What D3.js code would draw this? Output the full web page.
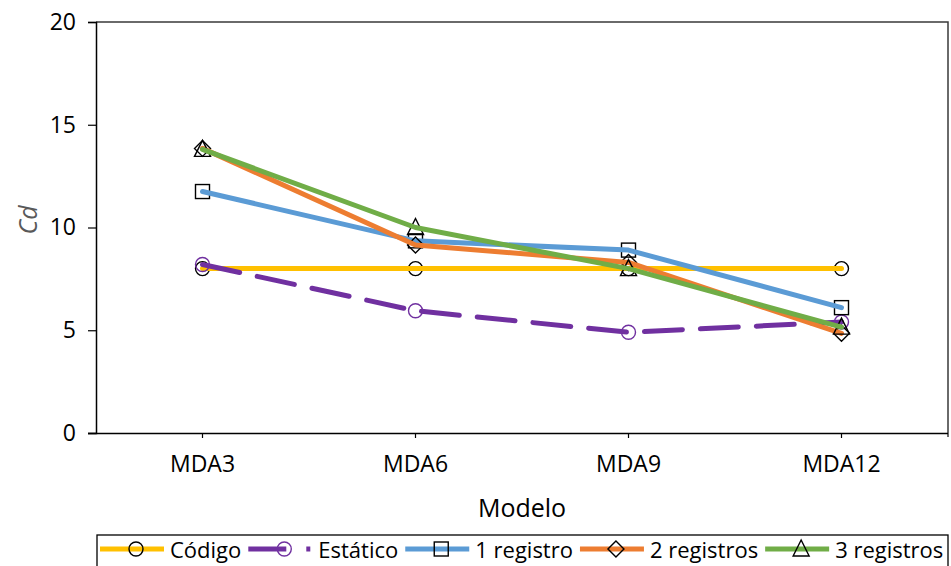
<!DOCTYPE html>
<html>
<head>
<meta charset="utf-8">
<script src="https://cdn.jsdelivr.net/npm/d3@7"></script>
<style>
  html, body { margin: 0; padding: 0; background: #fff; }
  svg { display: block; }
  text { font-family: "Open Sans", "Liberation Sans", sans-serif; fill: #000; }
</style>
</head>
<body>
<svg id="chart" width="951" height="566"></svg>
<script>
// Categories and series values (Cd per model)
const categories = ["MDA3", "MDA6", "MDA9", "MDA12"];
const codigo     = [8.0, 8.0, 8.0, 8.0];
const estatico   = [8.2, 5.95, 4.9, 5.4];
const registro1  = [11.75, 9.35, 8.9, 6.1];
const registro2  = [13.85, 9.15, 8.3, 4.85];
const registro3  = [13.8, 10.0, 8.0, 5.15];
const yTicks     = [0, 5, 10, 15, 20];

const seriesList = [
  { name: "Código",      values: codigo,    color: "#FFC000", marker: "circle",   markerStroke: "#000",    dash: null },
  { name: "Estático",    values: estatico,  color: "#7030A0", marker: "circle",   markerStroke: "#7030A0", dash: "38,18" },
  { name: "1 registro",  values: registro1, color: "#5B9BD5", marker: "square",   markerStroke: "#000",    dash: null },
  { name: "2 registros", values: registro2, color: "#ED7D31", marker: "diamond",  markerStroke: "#000",    dash: null },
  { name: "3 registros", values: registro3, color: "#70AD47", marker: "triangle", markerStroke: "#000",    dash: null }
];

const svg = d3.select("#chart");
const plot = { left: 96, right: 948, top: 22, bottom: 433 };

const x = d3.scaleBand().domain(categories).range([plot.left, plot.right]).padding(0);
const y = d3.scaleLinear().domain([0, 20]).range([plot.bottom, plot.top]);
const cx = c => x(c) + x.bandwidth() / 2;

// Plot frame (top and right edges)
svg.append("path")
  .attr("d", `M${plot.left},${plot.top}H${plot.right}V${plot.bottom + 4}`)
  .attr("fill", "none").attr("stroke", "#3a3a3a").attr("stroke-width", 1.5);

// Y axis
const yAxis = svg.append("g").attr("transform", `translate(${plot.left},0)`)
  .call(d3.axisLeft(y).tickValues(yTicks).tickSize(8).tickPadding(12).tickFormat(d3.format("d")));
yAxis.select(".domain").attr("stroke", "#000").attr("stroke-width", 1.5);
yAxis.selectAll(".tick line").attr("stroke", "#000").attr("stroke-width", 1.2);
yAxis.selectAll(".tick text").style("font-size", "23px").attr("fill", "#000");

// X axis
const xAxis = svg.append("g").attr("transform", `translate(0,${plot.bottom})`)
  .call(d3.axisBottom(x).tickSize(5).tickPadding(18).tickSizeOuter(0));
xAxis.select(".domain").attr("stroke", "#000").attr("stroke-width", 1.5)
  .attr("d", `M${plot.left - 8},0.5H${plot.right}`);
xAxis.selectAll(".tick line").attr("stroke", "#000").attr("stroke-width", 1.2);
xAxis.selectAll(".tick text").style("font-size", "23px").attr("fill", "#000");

// Axis titles
svg.append("text").attr("x", (plot.left + plot.right) / 2).attr("y", 517)
  .attr("text-anchor", "middle").style("font-size", "25px").text("Modelo");
svg.append("text").attr("transform", "translate(37,220) rotate(-90)")
  .attr("text-anchor", "middle").style("font-size", "25px").style("font-style", "italic")
  .style("fill", "#595959").text("Cd");

// Marker shapes
function drawMarker(g, type, px, py, stroke) {
  let el;
  if (type === "circle") {
    el = g.append("circle").attr("cx", px).attr("cy", py).attr("r", 7);
  } else if (type === "square") {
    el = g.append("rect").attr("x", px - 7).attr("y", py - 7).attr("width", 14).attr("height", 14);
  } else if (type === "diamond") {
    el = g.append("path").attr("d", `M${px},${py - 8}L${px + 8},${py}L${px},${py + 8}L${px - 8},${py}Z`);
  } else {
    el = g.append("path").attr("d", `M${px},${py - 9}L${px + 8},${py + 7}L${px - 8},${py + 7}Z`);
  }
  el.attr("fill", "none").attr("stroke", stroke).attr("stroke-width", 1.4);
}

// Series lines with markers
const line = d3.line().x((d, i) => cx(categories[i])).y(d => y(d));
const seriesG = svg.append("g");
seriesList.forEach(s => {
  const g = seriesG.append("g");
  s.values.forEach((v, i) => drawMarker(g, s.marker, cx(categories[i]), y(v), s.markerStroke));
  g.append("path").datum(s.values).attr("d", line)
    .attr("fill", "none").attr("stroke", s.color).attr("stroke-width", 5)
    .attr("stroke-linecap", "round").attr("stroke-linejoin", "round")
    .attr("stroke-dasharray", s.dash);
});

// Legend
const legendTop = 535, legendY = 549;
svg.append("rect").attr("x", 97).attr("y", legendTop).attr("width", 851).attr("height", 40)
  .attr("fill", "#fff").attr("stroke", "#000").attr("stroke-width", 1.3);
const legendG = svg.append("g");
let lx = 100;
seriesList.forEach(s => {
  const sampleW = 64;
  legendG.append("line").attr("x1", lx).attr("x2", lx + sampleW).attr("y1", legendY).attr("y2", legendY)
    .attr("stroke", s.color).attr("stroke-width", 5)
    .attr("stroke-dasharray", s.dash ? "38,20,4,30" : null);
  drawMarker(legendG, s.marker, lx + sampleW / 2 + 4, legendY, s.markerStroke);
  const t = legendG.append("text").attr("x", lx + sampleW + 6).attr("y", legendY)
    .attr("dominant-baseline", "central").style("font-size", "22px").text(s.name);
  lx += sampleW + 6 + t.node().getComputedTextLength() + 7;
});
</script>
</body>
</html>
